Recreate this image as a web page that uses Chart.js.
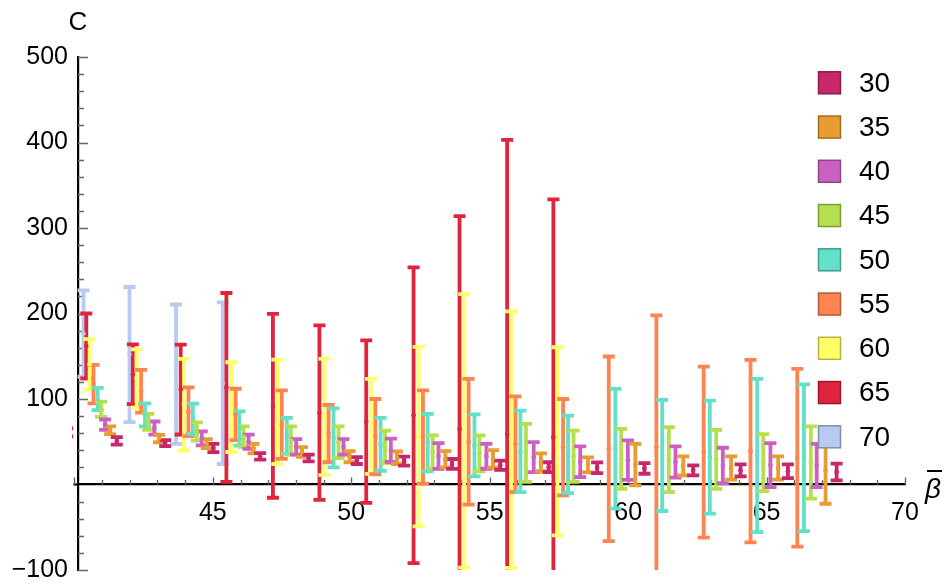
<!DOCTYPE html>
<html>
<head>
<meta charset="utf-8">
<script src="https://cdn.jsdelivr.net/npm/chart.js@4.4.1/dist/chart.umd.min.js"></script>
<style>
  html, body { margin: 0; padding: 0; background: #ffffff; }
  canvas { display: block; }
</style>
</head>
<body>
<canvas id="chart" width="948" height="585"></canvas>
<script>
// Series labels (N) shown in the legend, top to bottom
const seriesLabels = ['30', '35', '40', '45', '50', '55', '60', '65', '70'];

// beta-bar positions, central C values and half-widths of the error bars
const beta30 = [39.74, 41.53, 43.28, 45.02, 46.71, 48.46, 50.20, 51.91, 53.64, 55.38, 57.13, 58.88, 60.59, 62.35, 64.06, 65.77, 67.53];
const c30    = [61, 51, 48.5, 42.7, 33, 31, 28, 27.3, 24, 22.5, 20.2, 19.6, 18.8, 16.5, 16.5, 15.5, 14.6];
const err30  = [4.7, 4.3, 3.5, 4.9, 3.8, 4, 4, 5.3, 5.8, 5.5, 5.8, 6.3, 6.2, 5.8, 7, 8, 9.8];

const beta35 = [41.29, 43.06, 44.78, 46.47, 48.22, 49.94, 51.65, 53.40, 55.12, 56.85, 58.55, 60.26, 61.99, 63.72, 65.42, 67.13];
const c35    = [63.5, 53.7, 47.7, 42, 38, 32.5, 31.3, 29.5, 30, 26, 23, 23.3, 21.8, 19.3, 19.3, 16.5];
const err35  = [4.5, 4.3, 5.2, 5.5, 5.8, 6.5, 7.3, 9.5, 10.3, 10.5, 8.8, 24.3, 11.1, 13.7, 13.7, 39];

const beta40 = [41.11, 42.89, 44.60, 46.29, 48.01, 49.72, 51.43, 53.15, 54.88, 56.59, 58.27, 59.99, 61.71, 63.42, 65.14, 66.81];
const c40    = [70, 66, 54, 50, 44, 44, 40, 33.3, 33, 32, 26.6, 28.5, 26.3, 22.3, 22.7, 22.3];
const err40  = [6, 7.7, 8.2, 8.4, 9, 9, 13.7, 15, 14.6, 17.5, 18, 23, 18.3, 20.7, 25.7, 25.3];

const beta45 = [40.96, 42.67, 44.42, 46.11, 47.82, 49.54, 51.22, 52.94, 54.63, 56.31, 58.03, 59.75, 61.47, 63.18, 64.88, 66.60];
const c45    = [88, 73.3, 62, 56, 51.5, 49.5, 44, 38, 36.5, 37, 33, 30, 29, 29.5, 25.6, 25.7];
const err45  = [9, 9.3, 10.7, 12, 16.5, 18.5, 19, 19.5, 21, 34, 30, 35, 38, 34.5, 33.4, 42.3];

const beta50 = [40.84, 42.55, 44.28, 45.96, 47.67, 49.36, 51.06, 52.76, 54.45, 56.11, 57.83, 59.54, 61.23, 62.95, 64.66, 66.35];
const c50    = [100, 81.5, 77, 65.5, 57, 54.5, 47, 49, 45.7, 38.8, 35.3, 41.8, 34, 32, 34, 31.2];
const err50  = [13, 13.5, 17.7, 20, 21, 34.5, 31, 33.5, 36.3, 47.7, 45.3, 70, 65, 66, 89.6, 85.8];

const beta55 = [40.69, 42.41, 44.12, 45.82, 47.49, 49.18, 50.87, 52.59, 54.24, 55.93, 57.65, 59.30, 61.02, 62.73, 64.42, 66.11];
const c55    = [117.5, 109, 85, 82, 70, 59.5, 56, 55.5, 50, 47, 43.6, 41.7, 43.7, 37.8, 39, 31.3];
const err55  = [22.5, 25, 28.5, 30, 40, 33.5, 44, 54.5, 73.6, 56, 56.4, 108, 154, 100, 106.7, 104];

const beta60 = [40.55, 42.25, 43.96, 45.67, 47.33, 49.03, 50.71, 52.43, 54.08, 55.77, 57.45];
const c60    = [140.5, 124, 93.5, 90.5, 85, 79, 68, 56, 62.7, 52.6, 50.5];
const err60  = [29.5, 34, 53.5, 52.5, 61, 68, 55.5, 105, 160, 150, 110];

const beta65 = [40.43, 42.11, 43.84, 45.49, 47.17, 48.85, 50.54, 52.25, 53.91, 55.63, 57.30];
const c65    = [162, 129, 111, 113.5, 92, 84, 73.5, 81, 65, 59, 55.4];
const err65  = [38, 35, 52.5, 110.5, 107.5, 102, 95, 173, 249, 344, 278];

const beta70 = [40.33, 41.99, 43.67, 45.36];
const c70    = [176.5, 152, 129, 118.5];
const err70  = [50.5, 79, 81.5, 94.5];

// Axis ticks
const xTicks = [45, 50, 55, 60, 65, 70];
const yTicks = [-100, 100, 200, 300, 400, 500];

const fills = ['#C8286A', '#E89C32', '#CB60C2', '#B4E04E', '#62E0C8', '#FF8450', '#FFFF66', '#E0243E', '#B8C9F2'];
const edges = ['#8C1C4A', '#A06C22', '#8E4488', '#7E9C36', '#449C8C', '#B25C38', '#B3B347', '#9C192B', '#8090A8'];

const betas = [beta30, beta35, beta40, beta45, beta50, beta55, beta60, beta65, beta70];
const centres = [c30, c35, c40, c45, c50, c55, c60, c65, c70];
const errs = [err30, err35, err40, err45, err50, err55, err60, err65, err70];

const datasets = seriesLabels.map((label, s) => ({
  label,
  data: betas[s].map((b, i) => ({ x: b, y: centres[s][i] })),
  errors: errs[s],
  backgroundColor: fills[s],
  borderColor: fills[s],
  edgeColor: edges[s],
  pointRadius: 2.3,
  pointBorderWidth: 0,
  pointBackgroundColor: fills[s],
  showLine: false,
  clip: 0
}));

const FONT = "'Liberation Sans', Arial, sans-serif";

// Inward-pointing tick marks on both axes (major + minor)
const tickMarks = {
  id: 'tickMarks',
  beforeDatasetsDraw(chart) {
    const { ctx, chartArea: a, scales: { x, y } } = chart;
    const x0 = a.left;
    const y0 = y.getPixelForValue(0);
    ctx.save();
    // short stretch of the horizontal axis left of the vertical one
    ctx.strokeStyle = '#000000';
    ctx.lineWidth = 2.2;
    ctx.beginPath();
    ctx.moveTo(x0 - 4.5, y0);
    ctx.lineTo(x0, y0);
    ctx.stroke();

    ctx.strokeStyle = '#666666';
    ctx.lineWidth = 1.4;
    ctx.beginPath();
    for (let v = 40; v <= 70; v++) {
      const px = Math.round(x.getPixelForValue(v)) + 0.5;
      const len = v % 5 === 0 ? 7 : 4.5;
      ctx.moveTo(px, y0);
      ctx.lineTo(px, y0 - len);
    }
    for (let v = -100; v <= 500; v += 20) {
      if (v === 0) continue;
      const py = Math.round(y.getPixelForValue(v)) + 0.5;
      const len = v % 100 === 0 ? 10 : 6;
      ctx.moveTo(x0, py);
      ctx.lineTo(x0 + len, py);
    }
    ctx.stroke();
    ctx.restore();
  }
};

// Vertical error bars with caps, drawn from each dataset's centre and half-width
const errorBars = {
  id: 'errorBars',
  beforeDatasetsDraw(chart) {
    const { ctx, chartArea: a, scales: { x, y } } = chart;
    const capHalf = 6;
    const left = a.left - 6;
    ctx.save();
    ctx.beginPath();
    ctx.rect(left, a.top, a.right - left, a.bottom - a.top);
    ctx.clip();
    ctx.lineCap = 'butt';
    for (let d = chart.data.datasets.length - 1; d >= 0; d--) {
      const ds = chart.data.datasets[d];
      ctx.strokeStyle = ds.borderColor;
      ds.data.forEach((p, i) => {
        const e = ds.errors[i];
        const px = x.getPixelForValue(p.x);
        const yt = y.getPixelForValue(p.y + e);
        const yb = y.getPixelForValue(p.y - e);
        ctx.lineWidth = 3.8;
        ctx.beginPath();
        ctx.moveTo(px, yt);
        ctx.lineTo(px, yb);
        ctx.stroke();
        ctx.beginPath();
        ctx.moveTo(px - capHalf, yt);
        ctx.lineTo(px + capHalf, yt);
        ctx.moveTo(px - capHalf, yb);
        ctx.lineTo(px + capHalf, yb);
        ctx.stroke();
      });
    }
    ctx.restore();
  }
};

// Legend swatches and axis names
const legendAndNames = {
  id: 'legendAndNames',
  afterDatasetsDraw(chart) {
    const { ctx } = chart;
    ctx.save();
    ctx.textBaseline = 'middle';
    ctx.textAlign = 'left';
    ctx.font = '28px ' + FONT;
    chart.data.datasets.forEach((ds, s) => {
      const cy = 82.8 + s * 44.25;
      ctx.fillStyle = ds.backgroundColor;
      ctx.fillRect(818.5, cy - 11, 22, 22);
      ctx.strokeStyle = ds.edgeColor;
      ctx.lineWidth = 1.5;
      ctx.strokeRect(818.5, cy - 11, 22, 22);
      ctx.fillStyle = '#000000';
      ctx.fillText(ds.label, 859, cy + 1);
    });

    // vertical axis name
    ctx.textAlign = 'center';
    ctx.font = '26px ' + FONT;
    ctx.fillText('C', 78, 23);

    // horizontal axis name: beta with an overbar
    ctx.font = 'italic 28px ' + FONT;
    ctx.fillText('β', 933, 490);
    ctx.strokeStyle = '#000000';
    ctx.lineWidth = 2;
    ctx.beginPath();
    ctx.moveTo(927, 471);
    ctx.lineTo(942, 471);
    ctx.stroke();
    ctx.restore();
  }
};

// Keep the plot area fixed by the layout padding alone
function noLabelOverflow(scale) {
  scale.paddingTop = 0;
  scale.paddingBottom = 0;
  scale.paddingLeft = 0;
  scale.paddingRight = 0;
}

new Chart(document.getElementById('chart'), {
  type: 'scatter',
  data: { datasets },
  options: {
    responsive: false,
    animation: false,
    events: [],
    devicePixelRatio: 1,
    layout: { padding: { left: 0, right: 43, top: 57, bottom: 15 } },
    plugins: { legend: { display: false }, tooltip: { enabled: false } },
    scales: {
      x: {
        type: 'linear',
        position: { y: 0 },
        min: 40.13,
        max: 70,
        grid: { display: false, drawTicks: false },
        border: { display: true, color: '#000000', width: 2.2 },
        afterBuildTicks(scale) { scale.ticks = xTicks.map(v => ({ value: v })); },
        afterFit: noLabelOverflow,
        ticks: {
          padding: 14,
          maxRotation: 0,
          autoSkip: false,
          color: '#000000',
          font: { size: 25, family: FONT },
          callback: v => String(v)
        }
      },
      y: {
        type: 'linear',
        position: 'left',
        min: -100,
        max: 500,
        grid: { display: false, drawTicks: false },
        border: { display: true, color: '#000000', width: 2.2 },
        afterBuildTicks(scale) { scale.ticks = yTicks.map(v => ({ value: v })); },
        afterFit(scale) { noLabelOverflow(scale); scale.width = 78; },
        ticks: {
          padding: 10,
          autoSkip: false,
          color: '#000000',
          font: { size: 25, family: FONT },
          callback: v => (v < 0 ? '\u2212' + Math.abs(v) : String(v))
        }
      }
    }
  },
  plugins: [tickMarks, errorBars, legendAndNames]
});
</script>
</body>
</html>
